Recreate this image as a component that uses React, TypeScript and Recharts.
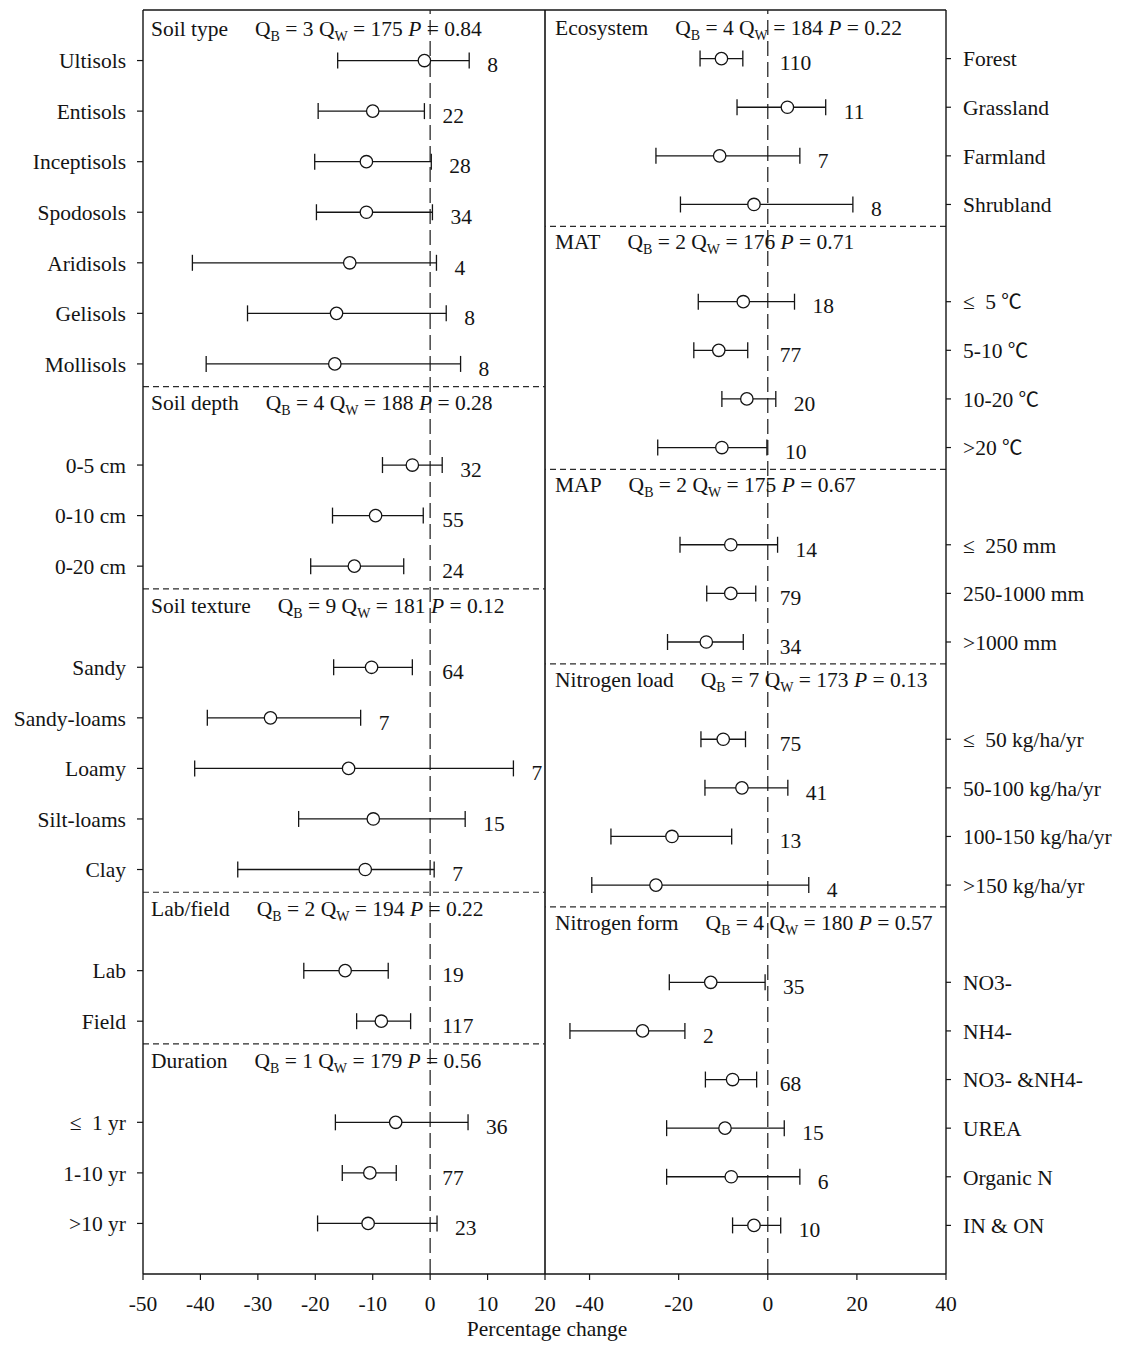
import React from 'react';
import { ScatterChart, Scatter, XAxis, YAxis, ErrorBar, ReferenceLine } from 'recharts';

const FONT = '"Liberation Serif", "Times New Roman", Times, serif';
const CJK = '"Noto Sans CJK SC", "Noto Sans CJK JP", "DejaVu Serif", serif';
const INK = '#141414';

// ---------- Left panel data ----------
const leftGroups = ['Soil type', 'Soil depth', 'Soil texture', 'Lab/field', 'Duration'];
const leftGroupSizes = [7, 3, 5, 2, 3];
const leftQB = [3, 4, 9, 2, 1];
const leftQW = [175, 188, 181, 194, 179];
const leftP = ['0.84', '0.28', '0.12', '0.22', '0.56'];
const leftCategories = [
  'Ultisols', 'Entisols', 'Inceptisols', 'Spodosols', 'Aridisols', 'Gelisols', 'Mollisols',
  '0-5 cm', '0-10 cm', '0-20 cm',
  'Sandy', 'Sandy-loams', 'Loamy', 'Silt-loams', 'Clay',
  'Lab', 'Field',
  '≤ 1 yr', '1-10 yr', '>10 yr',
];
const leftMean = [-1.0, -10.0, -11.1, -11.1, -14.0, -16.3, -16.6, -3.1, -9.5, -13.2, -10.2, -27.8, -14.2, -9.9, -11.3, -14.8, -8.5, -6.0, -10.5, -10.8];
const leftLow = [-16.1, -19.5, -20.1, -19.8, -41.4, -31.8, -39.0, -8.3, -17.0, -20.8, -16.8, -38.8, -41.0, -22.9, -33.5, -22.0, -12.8, -16.5, -15.3, -19.6];
const leftHigh = [6.8, -1.0, 0.2, 0.4, 1.1, 2.8, 5.3, 2.1, -1.2, -4.6, -3.1, -12.1, 14.5, 6.1, 0.7, -7.3, -3.4, 6.6, -5.9, 1.2];
const leftN = [8, 22, 28, 34, 4, 8, 8, 32, 55, 24, 64, 7, 7, 15, 7, 19, 117, 36, 77, 23];
const leftTicksX = [-50, -40, -30, -20, -10, 0, 10, 20];

// ---------- Right panel data ----------
const rightGroups = ['Ecosystem', 'MAT', 'MAP', 'Nitrogen load', 'Nitrogen form'];
const rightGroupSizes = [4, 4, 3, 4, 6];
const rightQB = [4, 2, 2, 7, 4];
const rightQW = [184, 176, 175, 173, 180];
const rightP = ['0.22', '0.71', '0.67', '0.13', '0.57'];
const rightCategories = [
  'Forest', 'Grassland', 'Farmland', 'Shrubland',
  '≤ 5 ℃', '5-10 ℃', '10-20 ℃', '>20 ℃',
  '≤ 250 mm', '250-1000 mm', '>1000 mm',
  '≤ 50 kg/ha/yr', '50-100 kg/ha/yr', '100-150 kg/ha/yr', '>150 kg/ha/yr',
  'NO3-', 'NH4-', 'NO3- &NH4-', 'UREA', 'Organic N', 'IN & ON',
];
const rightMean = [-10.4, 4.4, -10.8, -3.1, -5.5, -11.0, -4.7, -10.3, -8.3, -8.3, -13.8, -10.0, -5.8, -21.5, -25.1, -12.8, -28.1, -7.9, -9.6, -8.2, -3.1];
const rightLow = [-15.2, -6.9, -25.1, -19.6, -15.6, -16.6, -10.3, -24.7, -19.7, -13.7, -22.5, -15.0, -14.1, -35.2, -39.5, -22.1, -44.4, -14.0, -22.7, -22.7, -7.9];
const rightHigh = [-5.6, 13.0, 7.2, 19.1, 6.0, -4.5, 1.8, -0.2, 2.2, -2.7, -5.5, -5.0, 4.5, -8.1, 9.2, -0.6, -18.6, -2.5, 3.7, 7.2, 2.9];
const rightN = [110, 11, 7, 8, 18, 77, 20, 10, 14, 79, 34, 75, 41, 13, 4, 35, 2, 68, 15, 6, 10];
const rightTicksX = [-40, -20, 0, 20, 40];

// ---------- layout ----------
const CHART_H = 1345;
const TOP = 10;
const X_AXIS_H = 71;
const LEFT_Y_W = 143;
const LEFT_PLOT_W = 402;
const LEFT_SVG_W = 560;
const RIGHT_PLOT_W = 401;
const RIGHT_Y_W = 175;
const LEFT_DOMAIN: [number, number] = [-50, 20];
const RIGHT_DOMAIN: [number, number] = [-50, 40];
const FS = 21.5;

type Row = { x: number; y: number; err: [number, number]; label: string };
type NRow = { x: number; y: number; n: number };
type Head = { x: number; y: number; name: string; qb: number; qw: number; p: string };

function buildPanel(
  categories: string[], sizes: number[], mean: number[], low: number[], high: number[], n: number[],
  groups: string[], qb: number[], qw: number[], p: string[], xMin: number,
) {
  const rows: Row[] = [];
  const nRows: NRow[] = [];
  const headers: Head[] = [];
  const seps: number[] = [];
  let idx = 0;
  let slot = 0;
  sizes.forEach((size, g) => {
    if (g > 0) {
      seps.push(slot - 1 + 0.45);
      slot += 1;
      headers.push({ x: xMin, y: slot - 1.22, name: groups[g], qb: qb[g], qw: qw[g], p: p[g] });
    } else {
      headers.push({ x: xMin, y: -0.62, name: groups[g], qb: qb[g], qw: qw[g], p: p[g] });
    }
    for (let i = 0; i < size; i++) {
      rows.push({ x: mean[idx], y: slot, err: [mean[idx] - low[idx], high[idx] - mean[idx]], label: categories[idx] });
      nRows.push({ x: high[idx], y: slot, n: n[idx] });
      idx++;
      slot++;
    }
  });
  return { rows, nRows, headers, seps, maxSlot: slot - 1 };
}

const left = buildPanel(leftCategories, leftGroupSizes, leftMean, leftLow, leftHigh, leftN, leftGroups, leftQB, leftQW, leftP, LEFT_DOMAIN[0]);
const right = buildPanel(rightCategories, rightGroupSizes, rightMean, rightLow, rightHigh, rightN, rightGroups, rightQB, rightQW, rightP, RIGHT_DOMAIN[0]);

const CircleShape = (props: any) => (
  <circle cx={props.cx} cy={props.cy} r={6.2} fill="#fff" stroke={INK} strokeWidth={1.3} />
);

const makeHeaderShape = (dx: number) => (props: any) => {
  const { cx, cy, payload } = props;
  return (
    <text x={cx + dx} y={cy + 7} fontFamily={FONT} fontSize={FS} fill={INK}>
      <tspan>{payload.name}</tspan>
      <tspan dx={27}>Q</tspan>
      <tspan fontSize={14} dy={5}>B</tspan>
      <tspan dy={-5}>{` = ${payload.qb} Q`}</tspan>
      <tspan fontSize={14} dy={5}>W</tspan>
      <tspan dy={-5}>{` = ${payload.qw} `}</tspan>
      <tspan fontStyle="italic">P</tspan>
      <tspan>{` = ${payload.p}`}</tspan>
    </text>
  );
};

const makeNShape = (pxPerUnit: number) => (props: any) => {
  const { cx, cy, payload } = props;
  const zero = cx - payload.x * pxPerUnit;
  const w = String(payload.n).length * 10.8;
  let start = cx + 18;
  if (start < zero + 12 && start + w > zero - 4) start = zero + 12;
  return (
    <text x={start} y={cy + 4} dy="0.36em" fontFamily={FONT} fontSize={FS} fill={INK}>
      {payload.n}
    </text>
  );
};

const SPECIAL = /([≤℃])/;

const makeYTick = (labelBySlot: Record<number, string>) => (props: any) => {
  const { x, y, payload, textAnchor } = props;
  const label = labelBySlot[payload.value] ?? '';
  const parts = label.split(SPECIAL).filter((s) => s.length > 0);
  return (
    <text x={x} y={y} dy="0.36em" textAnchor={textAnchor} fontFamily={FONT} fontSize={FS} fill={INK}>
      {parts.map((part, i) => {
        if (part === '℃') return <tspan key={i} fontFamily={CJK} fontSize={FS - 1}>{part}</tspan>;
        if (part === '≤') return <tspan key={i}>{part}</tspan>;
        return <tspan key={i} dx={i > 0 && parts[i - 1] === '≤' ? 5 : 0}>{part}</tspan>;
      })}
    </text>
  );
};

const tickStyle = { fill: INK, fontSize: FS, fontFamily: FONT };

function Panel({ data, side }: { data: ReturnType<typeof buildPanel>; side: 'left' | 'right' }) {
  const isLeft = side === 'left';
  const domain = isLeft ? LEFT_DOMAIN : RIGHT_DOMAIN;
  const pxPerUnit = (isLeft ? LEFT_PLOT_W : RIGHT_PLOT_W) / (domain[1] - domain[0]);
  const labelBySlot: Record<number, string> = {};
  data.rows.forEach((r) => { labelBySlot[r.y] = r.label; });
  const yTicks = data.rows.map((r) => r.y);
  const width = isLeft ? LEFT_SVG_W : RIGHT_PLOT_W + RIGHT_Y_W;
  return (
    <ScatterChart
      width={width}
      height={CHART_H}
      margin={{ top: TOP, right: isLeft ? LEFT_SVG_W - LEFT_Y_W - LEFT_PLOT_W : 0, bottom: 0, left: 0 }}
    >
      <XAxis
        type="number"
        dataKey="x"
        domain={domain}
        allowDataOverflow
        ticks={isLeft ? leftTicksX : rightTicksX}
        interval={0}
        height={X_AXIS_H}
        tickSize={6}
        tickMargin={16}
        tick={tickStyle}
        axisLine={{ stroke: INK, strokeWidth: 1.4 }}
        tickLine={{ stroke: INK, strokeWidth: 1.2 }}
      />
      <YAxis
        type="number"
        dataKey="y"
        orientation={isLeft ? 'left' : 'right'}
        width={isLeft ? LEFT_Y_W : RIGHT_Y_W}
        domain={[-1, data.maxSlot + 1]}
        allowDataOverflow
        reversed
        ticks={yTicks}
        interval={0}
        tickSize={isLeft ? 6 : 5}
        tickMargin={isLeft ? 11 : 12}
        tick={makeYTick(labelBySlot)}
        axisLine={{ stroke: INK, strokeWidth: 1.4 }}
        tickLine={{ stroke: INK, strokeWidth: 1.2 }}
      />
      <ReferenceLine y={-1} stroke={INK} strokeWidth={1.4} ifOverflow="visible" />
      {isLeft && <ReferenceLine x={domain[1]} stroke={INK} strokeWidth={1.6} ifOverflow="visible" />}
      <ReferenceLine x={0} stroke="#2a2a2a" strokeWidth={1.3} strokeDasharray="15 6" />
      {data.seps.map((s) => (
        <ReferenceLine key={s} y={s} stroke="#2a2a2a" strokeWidth={1.2} strokeDasharray="6 4" />
      ))}
      <Scatter data={data.rows} shape={CircleShape} isAnimationActive={false}>
        <ErrorBar dataKey="err" direction="x" width={8} stroke={INK} strokeWidth={1.3} isAnimationActive={false} />
      </Scatter>
      <Scatter data={data.nRows} shape={makeNShape(pxPerUnit)} isAnimationActive={false} />
      <Scatter data={data.headers} shape={makeHeaderShape(isLeft ? 8 : 10)} isAnimationActive={false} />
    </ScatterChart>
  );
}

export default function App() {
  return (
    <div style={{ position: 'absolute', left: 0, top: 0, width: 1121, height: 1345, background: '#fff' }}>
      <div style={{ position: 'absolute', left: 0, top: 0 }}>
        <Panel data={left} side="left" />
      </div>
      <div style={{ position: 'absolute', left: LEFT_Y_W + LEFT_PLOT_W, top: 0 }}>
        <Panel data={right} side="right" />
      </div>
      <div
        style={{
          position: 'absolute', left: 397, top: 1316, width: 300, textAlign: 'center',
          fontFamily: FONT, fontSize: FS, lineHeight: '26px', color: INK,
        }}
      >
        Percentage change
      </div>
    </div>
  );
}
